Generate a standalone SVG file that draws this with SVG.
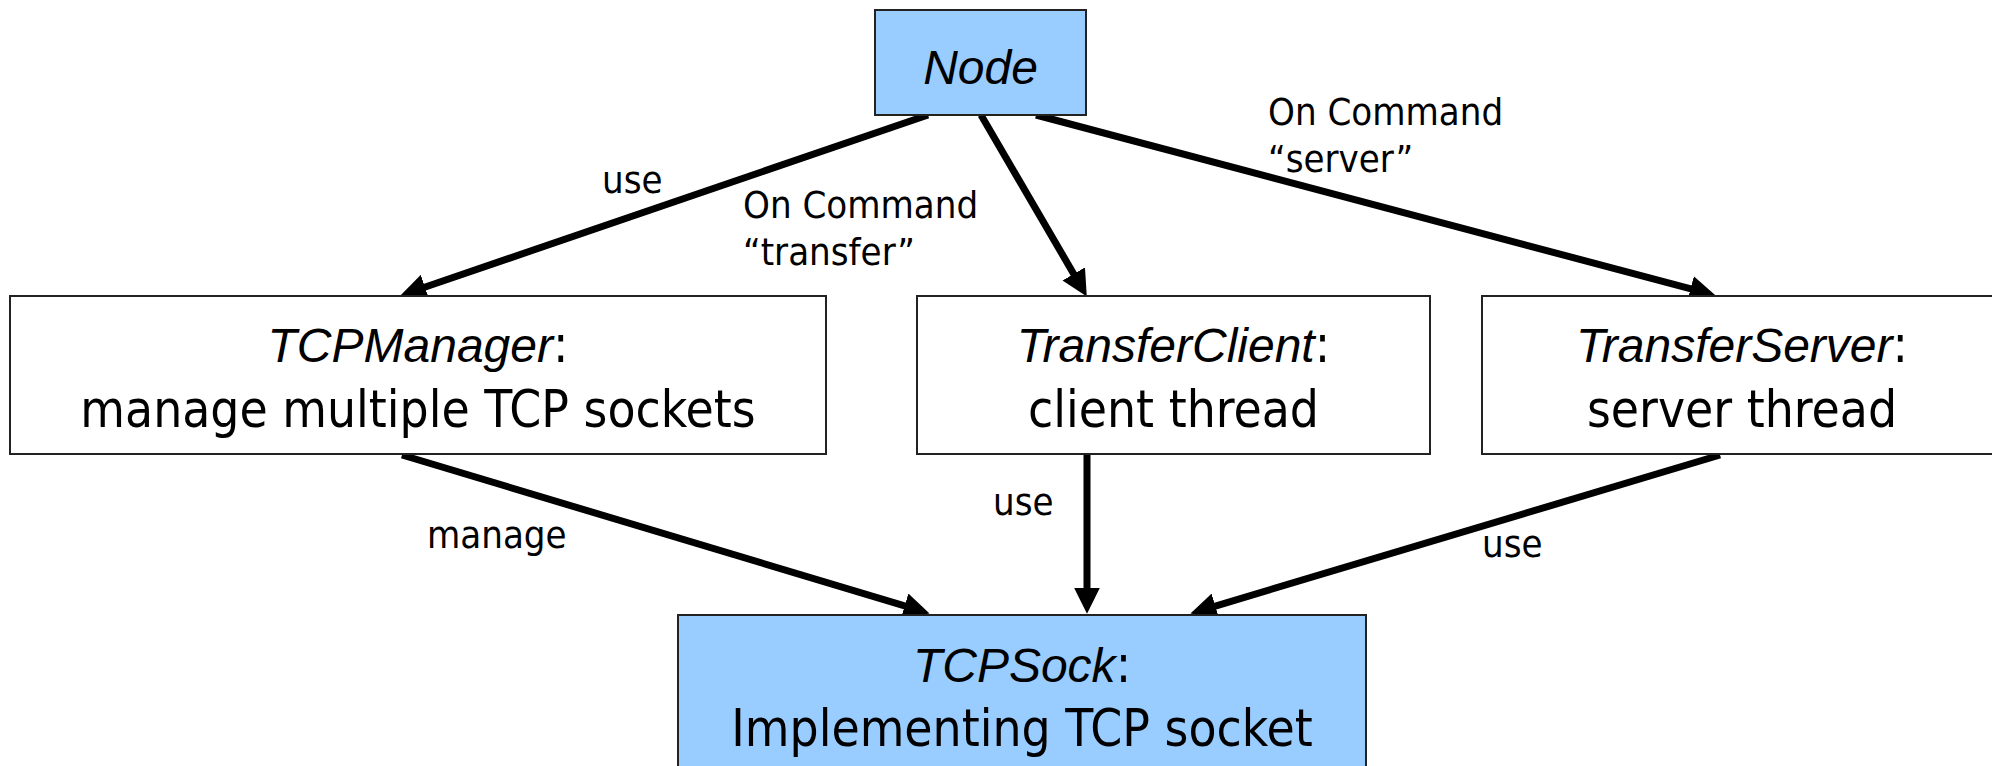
<svg xmlns="http://www.w3.org/2000/svg" width="1992" height="766" viewBox="0 0 1992 766">
<style>
  .box { stroke: #222; stroke-width: 2; }
  .blue { fill: #99CCFF; }
  .white { fill: #FFFFFF; }
  .name { font-family: "Liberation Sans", Arial, sans-serif; font-style: italic; font-size: 48px; fill: #000; }
  .reg { font-family: "DejaVu Sans Condensed", "DejaVu Sans", sans-serif; font-stretch: condensed; font-size: 51px; fill: #000; }
  .lbl { font-family: "DejaVu Sans Condensed", "DejaVu Sans", sans-serif; font-stretch: condensed; font-size: 38px; fill: #000; }
  .edge { stroke: #000; stroke-width: 7; fill: none; marker-end: url(#arrow); }
</style>
<defs>
  <marker id="arrow" markerUnits="userSpaceOnUse" markerWidth="26" markerHeight="26" refX="4" refY="12" orient="auto" viewBox="0 0 24 24">
    <path d="M0,0 L24,12 L0,24 Z" fill="#000"/>
  </marker>
</defs>
<rect width="1992" height="766" fill="#FFFFFF"/>

<g id="connectors">
  <line class="edge" x1="928" y1="115" x2="420.9" y2="288.5"/>
  <line class="edge" x1="981" y1="115" x2="1075.9" y2="277.7"/>
  <line class="edge" x1="1036" y1="115" x2="1694.7" y2="289.9"/>
  <line class="edge" x1="402" y1="455" x2="908.8" y2="607.2"/>
  <line class="edge" x1="1087" y1="455" x2="1087" y2="592"/>
  <line class="edge" x1="1720" y1="455" x2="1211.2" y2="607.3"/>
  <text class="lbl" x="602" y="193">use</text>
  <text class="lbl" x="743" y="218">On Command</text>
  <text class="lbl" x="743" y="265">“transfer”</text>
  <text class="lbl" x="1268" y="125">On Command</text>
  <text class="lbl" x="1268" y="172">“server”</text>
  <text class="lbl" x="427" y="548">manage</text>
  <text class="lbl" x="993" y="515">use</text>
  <text class="lbl" x="1482" y="557">use</text>
</g>

<g id="node-node">
  <rect class="box blue" x="875" y="10" width="211" height="105"/>
  <text class="name" x="980.5" y="84" text-anchor="middle">Node</text>
</g>

<g id="node-tcpmanager">
  <rect class="box white" x="10" y="296" width="816" height="158"/>
  <text x="418" y="362" text-anchor="middle"><tspan class="name">TCPManager</tspan><tspan class="reg">:</tspan></text>
  <text class="reg" x="418" y="427" text-anchor="middle">manage multiple TCP sockets</text>
</g>

<g id="node-transferclient">
  <rect class="box white" x="917" y="296" width="513" height="158"/>
  <text x="1173.5" y="362" text-anchor="middle"><tspan class="name">TransferClient</tspan><tspan class="reg">:</tspan></text>
  <text class="reg" x="1173.5" y="427" text-anchor="middle">client thread</text>
</g>

<g id="node-transferserver">
  <rect class="box white" x="1482" y="296" width="520" height="158"/>
  <text x="1742" y="362" text-anchor="middle"><tspan class="name">TransferServer</tspan><tspan class="reg">:</tspan></text>
  <text class="reg" x="1742" y="427" text-anchor="middle">server thread</text>
</g>

<g id="node-tcpsock">
  <rect class="box blue" x="678" y="615" width="688" height="170"/>
  <text x="1022" y="682" text-anchor="middle"><tspan class="name">TCPSock</tspan><tspan class="reg">:</tspan></text>
  <text class="reg" x="1022" y="746" text-anchor="middle">Implementing TCP socket</text>
</g>
</svg>
